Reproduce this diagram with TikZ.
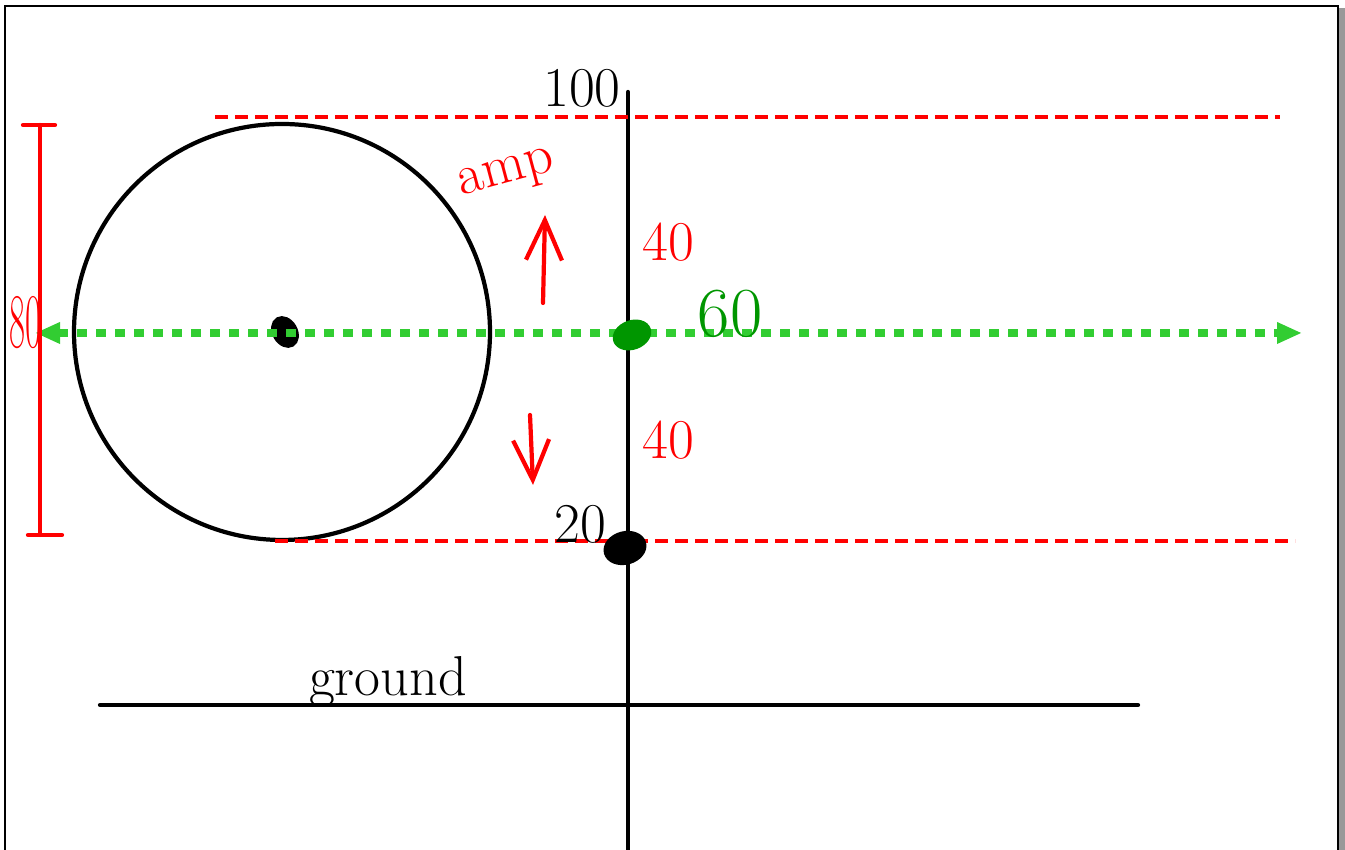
\documentclass[tikz,border=0pt]{standalone}
\usetikzlibrary{arrows.meta, shapes.geometric}

\definecolor{penred}{RGB}{255,0,0}
\definecolor{limeline}{RGB}{50,205,50}
\definecolor{pengreen}{RGB}{0,150,0}

\tikzset{
    pen/.style={line width=1.2pt, line cap=round},
    level/.style={penred, line width=1.0pt, dash pattern=on 1.3mm off 0.7mm},
    midline/.style={limeline, line width=2.2pt, dash pattern=on 1.0mm off 0.9mm,
        {Triangle[length=2.5mm,width=2mm]}-{Triangle[length=2.5mm,width=2mm]}},
    handtip/.style={-{Straight Barb[length=4mm,width=3.6mm]}},
    hand/.style={font=\fontsize{16}{19}\selectfont},
    blob/.style={ellipse, inner sep=0pt, fill=black, draw=black, line width=1pt}
}

\begin{document}
\begin{tikzpicture}[x=1cm, y=1cm, >=stealth]
    \useasboundingbox (0,0) rectangle (13.45,8.50);

    % page frame with shadow
    \fill[gray!80] (13.38,0) rectangle (13.45,8.42);
    \draw[line width=0.6pt] (0.05,0) -- (0.05,8.44) -- (13.38,8.44) -- (13.38,0);

    % axis and ground
    \coordinate (axtop) at (6.28,7.58);
    \coordinate (axbot) at (6.28,0);
    \coordinate (gl) at (1.00,1.45);
    \coordinate (gr) at (11.38,1.45);
    \draw[pen] (axtop) -- (axbot);
    \draw[pen] (gl) -- (gr);

    % wheel
    \node[circle, draw, line width=1.2pt, minimum size=4.16cm, inner sep=0pt] (wheel) at (2.82,5.18) {};
    \node[blob, minimum width=0.22cm, minimum height=0.30cm, rotate=30] (hub) at (2.85,5.18) {};

    % top and bottom levels
    \coordinate (topl) at (2.15,7.33);
    \coordinate (topr) at (12.80,7.33);
    \coordinate (botl) at (2.75,3.09);
    \coordinate (botr) at (12.95,3.09);
    \draw[level] (topl) -- (topr);
    \draw[level] (botl) -- (botr);

    % midline
    \coordinate (midl) at (0.35,5.17);
    \coordinate (midr) at (13.02,5.17);
    \draw[midline] (midl) -- (midr);

    \node[blob, fill=pengreen, draw=pengreen, minimum width=0.36cm, minimum height=0.26cm, rotate=20] (middot) at (6.32,5.15) {};
    \node[blob, minimum width=0.40cm, minimum height=0.30cm, rotate=15] (lowdot) at (6.25,3.02) {};

    % diameter bracket
    \coordinate (brt) at (0.40,7.25);
    \coordinate (brb) at (0.40,3.15);
    \coordinate (brtl) at (0.23,7.25);
    \coordinate (brtr) at (0.55,7.25);
    \coordinate (brbl) at (0.28,3.15);
    \coordinate (brbr) at (0.62,3.15);
    \draw[penred, pen] (brt) -- (brb);
    \draw[penred, pen] (brtl) -- (brtr);
    \draw[penred, pen] (brbl) -- (brbr);
    \node[penred, inner sep=0pt, font=\fontsize{22}{26}\selectfont, xscale=0.45] (diam) at (0.25,5.27) {80};

    % amplitude arrows
    \coordinate (upa) at (5.43,5.47);
    \coordinate (upb) at (5.45,6.35);
    \coordinate (dna) at (5.30,4.35);
    \coordinate (dnb) at (5.33,3.65);
    \draw[penred, pen, handtip] (upa) -- (upb);
    \draw[penred, pen, handtip] (dna) -- (dnb);

    % labels
    \node[hand] (max) at (5.82,7.62) {100};
    \node[hand, penred, rotate=15] (amp) at (5.07,6.74) {amp};
    \node[hand, penred] (upamp) at (6.68,6.08) {40};
    \node[hand, pengreen, font=\fontsize{20}{24}\selectfont] (mid) at (7.30,5.36) {60};
    \node[hand, penred] (dnamp) at (6.68,4.10) {40};
    \node[hand] (min) at (5.80,3.26) {20};
    \node[hand] (ground) at (3.88,1.68) {ground};
\end{tikzpicture}
\end{document}
